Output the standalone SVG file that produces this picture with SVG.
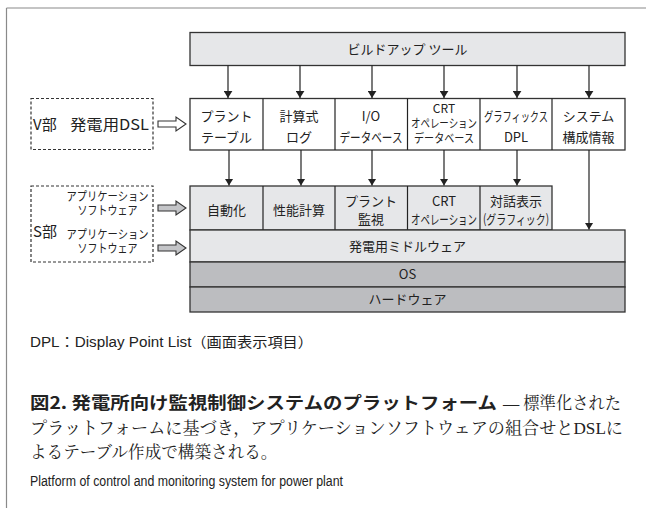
<svg xmlns="http://www.w3.org/2000/svg" width="646" height="508" viewBox="0 0 646 508">
<defs>
<style>
.frame{stroke:#8a8a8a;stroke-width:1.2;fill:none}
.box{stroke:#333;stroke-width:1.3;fill:#fff}
.lt{stroke:#333;stroke-width:1.3;fill:#e6e7e9}
.dk{stroke:#333;stroke-width:1.3;fill:#bcbdc0}
.dash{stroke:#333;stroke-width:1.2;fill:#fff;stroke-dasharray:3 2}
.t{font-family:"Noto Sans CJK JP","Liberation Sans",sans-serif;font-size:13px;fill:#222;text-anchor:middle}
.ts{font-family:"Noto Sans CJK JP","Liberation Sans",sans-serif;font-size:12px;fill:#222;text-anchor:middle}
.tl{font-family:"Noto Sans CJK JP","Liberation Sans",sans-serif;font-size:15px;fill:#222}
.ln{stroke:#222;stroke-width:1.2;fill:none}
.ha{stroke:#333;stroke-width:1.1}
.cap{font-family:"Liberation Sans","Noto Sans CJK JP",sans-serif;font-size:14px;fill:#222}
.title{font-family:"Noto Sans CJK JP",sans-serif;font-size:17px;font-weight:bold;fill:#222}
.body{font-family:"Liberation Serif","Noto Serif CJK JP","Noto Sans CJK JP",serif;font-size:16.6px;fill:#222}
</style>
<marker id="ah" viewBox="0 0 8 10" refX="8" refY="5" markerWidth="7" markerHeight="9" markerUnits="userSpaceOnUse" orient="auto">
<path d="M0,0 L8,5 L0,10 z" fill="#222"/>
</marker>
</defs>

<g id="frame">
<line class="frame" x1="6.5" y1="8" x2="646" y2="8"/>
<line class="frame" x1="6.5" y1="8" x2="6.5" y2="508"/>
</g>

<g id="buildup">
<rect class="lt" x="190" y="32.5" width="435" height="33"/>
<text class="t" x="407.5" y="53.5" font-size="13.5">ビルドアップ ツール</text>
</g>

<g id="row2">
<rect class="box" x="190" y="98.5" width="435" height="51.5"/>
<line class="ln" x1="263" y1="98.5" x2="263" y2="150"/>
<line class="ln" x1="335" y1="98.5" x2="335" y2="150"/>
<line class="ln" x1="407.5" y1="98.5" x2="407.5" y2="150"/>
<line class="ln" x1="480" y1="98.5" x2="480" y2="150"/>
<line class="ln" x1="552" y1="98.5" x2="552" y2="150"/>
<g id="plant-table"><text class="t" x="226.5" y="121">プラント</text><text class="t" x="226.5" y="141.5">テーブル</text></g>
<g id="calc-log"><text class="t" x="299" y="121">計算式</text><text class="t" x="299" y="141.5">ログ</text></g>
<g id="io-db"><text class="t" x="371" y="121">I/O</text><text class="t" x="371" y="141.5" textLength="63" lengthAdjust="spacingAndGlyphs">データベース</text></g>
<g id="crt-db"><text class="ts" x="444" y="113">CRT</text><text class="ts" x="444" y="128" textLength="66" lengthAdjust="spacingAndGlyphs">オペレーション</text><text class="ts" x="444" y="143" textLength="60" lengthAdjust="spacingAndGlyphs">データベース</text></g>
<g id="graphics-dpl"><text class="t" x="516" y="121" textLength="64" lengthAdjust="spacingAndGlyphs">グラフィックス</text><text class="t" x="516" y="141.5">DPL</text></g>
<g id="sys-config"><text class="t" x="588.5" y="121">システム</text><text class="t" x="588.5" y="141.5">構成情報</text></g>
</g>

<g id="row3">
<rect class="lt" x="190" y="186" width="362" height="44"/>
<line class="ln" x1="263" y1="186" x2="263" y2="230"/>
<line class="ln" x1="335" y1="186" x2="335" y2="230"/>
<line class="ln" x1="407.5" y1="186" x2="407.5" y2="230"/>
<line class="ln" x1="480" y1="186" x2="480" y2="230"/>
<g id="auto"><text class="t" x="226.5" y="214.5">自動化</text></g>
<g id="perf"><text class="t" x="299" y="214.5">性能計算</text></g>
<g id="plant-mon"><text class="t" x="371" y="205.5">プラント</text><text class="t" x="371" y="224">監視</text></g>
<g id="crt-op"><text class="t" x="444" y="205.5">CRT</text><text class="t" x="444" y="224" textLength="66" lengthAdjust="spacingAndGlyphs">オペレーション</text></g>
<g id="dialog"><text class="t" x="516" y="205.5">対話表示</text><text class="t" x="516" y="224" textLength="66" lengthAdjust="spacingAndGlyphs">(グラフィック)</text></g>
</g>

<g id="middleware">
<rect class="lt" x="190" y="230" width="435" height="32"/>
<text class="t" x="407.5" y="251">発電用ミドルウェア</text>
</g>
<g id="os">
<rect class="dk" x="190" y="262" width="435" height="25"/>
<text class="t" x="407.5" y="279">OS</text>
</g>
<g id="hardware">
<rect class="dk" x="190" y="287" width="435" height="25"/>
<text class="t" x="407.5" y="304">ハードウェア</text>
</g>

<g id="v-part">
<rect class="dash" x="31" y="98.5" width="122" height="51"/>
<text class="tl" x="33" y="129.5">V部</text>
<text class="tl" x="70" y="129.5" textLength="79" lengthAdjust="spacingAndGlyphs">発電用DSL</text>
</g>

<g id="s-part">
<rect class="dash" x="31" y="186" width="122" height="76"/>
<text class="tl" x="33" y="236.5">S部</text>
<text class="ts" x="107.5" y="201" textLength="82" lengthAdjust="spacingAndGlyphs">アプリケーション</text>
<text class="ts" x="107.5" y="215" textLength="60" lengthAdjust="spacingAndGlyphs">ソフトウェア</text>
<text class="ts" x="107.5" y="238.5" textLength="82" lengthAdjust="spacingAndGlyphs">アプリケーション</text>
<text class="ts" x="107.5" y="252.5" textLength="60" lengthAdjust="spacingAndGlyphs">ソフトウェア</text>
</g>

<g id="connectors">
<line class="ln" x1="228" y1="65.5" x2="228" y2="98" marker-end="url(#ah)"/>
<line class="ln" x1="300" y1="65.5" x2="300" y2="98" marker-end="url(#ah)"/>
<line class="ln" x1="372" y1="65.5" x2="372" y2="98" marker-end="url(#ah)"/>
<line class="ln" x1="444" y1="65.5" x2="444" y2="98" marker-end="url(#ah)"/>
<line class="ln" x1="517" y1="65.5" x2="517" y2="98" marker-end="url(#ah)"/>
<line class="ln" x1="589" y1="65.5" x2="589" y2="98" marker-end="url(#ah)"/>
<line class="ln" x1="229" y1="150" x2="229" y2="185.5" marker-end="url(#ah)"/>
<line class="ln" x1="301" y1="150" x2="301" y2="185.5" marker-end="url(#ah)"/>
<line class="ln" x1="372" y1="150" x2="372" y2="185.5" marker-end="url(#ah)"/>
<line class="ln" x1="444" y1="150" x2="444" y2="185.5" marker-end="url(#ah)"/>
<line class="ln" x1="517" y1="150" x2="517" y2="185.5" marker-end="url(#ah)"/>
<line class="ln" x1="589" y1="150" x2="589" y2="229.5" marker-end="url(#ah)"/>
<path class="ha" fill="#fff" d="M158,121 H176 V117 L186,124 L176,131 V127 H158 Z"/>
<path class="ha" fill="#c4c5c8" d="M158,205 H176 V201 L186,208 L176,215 V211 H158 Z"/>
<path class="ha" fill="#c4c5c8" d="M158,245 H176 V241 L186,248 L176,255 V251 H158 Z"/>
</g>

<g id="caption">
<text class="cap" x="30" y="346.5" textLength="283" lengthAdjust="spacingAndGlyphs">DPL<tspan font-family="Noto Sans CJK JP">：</tspan>Display Point List<tspan font-family="Noto Sans CJK JP">（画面表示項目）</tspan></text>
<text class="title" x="30" y="409" textLength="467" lengthAdjust="spacingAndGlyphs">図2.  発電所向け監視制御システムのプラットフォーム</text>
<text class="body" x="503" y="409" textLength="118" lengthAdjust="spacingAndGlyphs">— 標準化された</text>
<text class="body" x="30" y="434" textLength="593" lengthAdjust="spacingAndGlyphs">プラットフォームに基づき，アプリケーションソフトウェアの組合せとDSLに</text>
<text class="body" x="30" y="458">よるテーブル作成で構築される。</text>
<text class="cap" x="30" y="486" textLength="313" lengthAdjust="spacingAndGlyphs">Platform of control and monitoring system for power plant</text>
</g>
</svg>
